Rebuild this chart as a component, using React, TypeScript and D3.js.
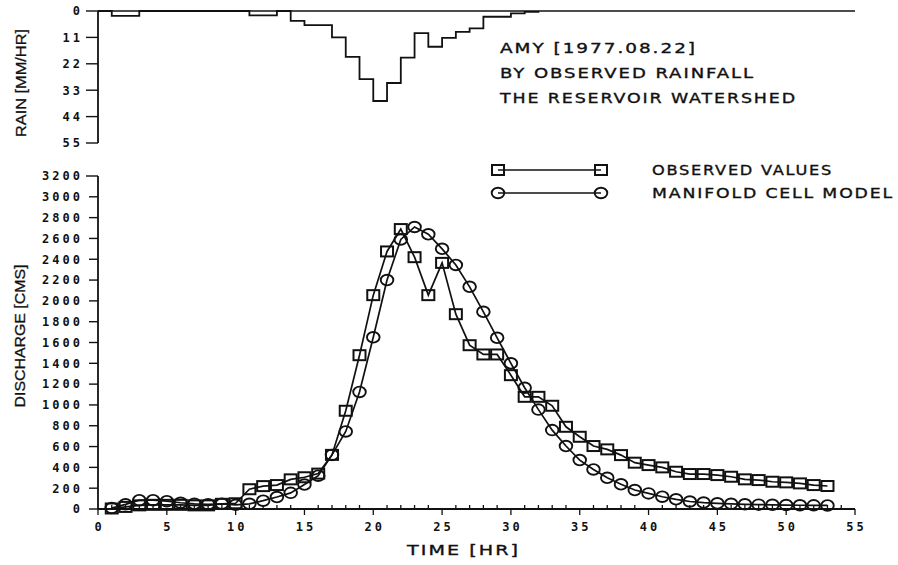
import { useEffect, useRef } from 'react';
import * as d3 from 'd3';

// hyetograph: hourly rain (mm/hr), value holds from the start hour to the next
const rainStartHr = [0, 1, 2, 3, 11, 13, 14, 15, 16, 17, 18, 19, 20, 21, 22, 23, 24, 25, 26, 27, 28, 29, 30, 31, 32];
const rainMm = [0, 2, 2, 0, 1.8, 0, 4.1, 5.9, 5.9, 11, 19.1, 28.4, 37.5, 30, 19.4, 9.2, 14.9, 11.2, 8.7, 7.2, 2.4, 2.4, 1, 0.4, 0];

const hours = [
  1, 2, 3, 4, 5, 6, 7, 8, 9, 10,
  11, 12, 13, 14, 15, 16, 17, 18, 19, 20,
  21, 22, 23, 24, 25, 26, 27, 28, 29, 30,
  31, 32, 33, 34, 35, 36, 37, 38, 39, 40,
  41, 42, 43, 44, 45, 46, 47, 48, 49, 50,
  51, 52, 53,
];
const observed = [
  5, 20, 35, 40, 40, 40, 35, 35, 50, 55,
  190, 220, 230, 285, 305, 340, 520, 944, 1478, 2055,
  2475, 2690, 2420, 2055, 2365, 1872, 1574, 1485, 1485, 1286,
  1078, 1078, 992, 790, 694, 605, 573, 518, 445, 422,
  400, 358, 336, 336, 326, 310, 285, 278, 262, 256,
  246, 230, 221,
];
const manifold = [
  10, 45, 85, 85, 75, 60, 50, 45, 50, 40,
  50, 80, 115, 155, 235, 320, 520, 745, 1125, 1650,
  2200, 2590, 2710, 2640, 2500, 2345, 2135, 1895, 1645, 1400,
  1165, 955, 758, 605, 470, 380, 300, 237, 182, 150,
  118, 93, 72, 62, 55, 50, 45, 42, 40, 38,
  36, 35, 34,
];

const qTicks = [0, 200, 400, 600, 800, 1000, 1200, 1400, 1600, 1800, 2000, 2200, 2400, 2600, 2800, 3000, 3200];
const rainTicks = [0, 11, 22, 33, 44, 55];
const timeTicks = [0, 5, 10, 15, 20, 25, 30, 35, 40, 45, 50, 55];
const titleLines = ['AMY [1977.08.22]', 'BY OBSERVED RAINFALL', 'THE RESERVOIR WATERSHED'];
const legendLabels = ['OBSERVED VALUES', 'MANIFOLD CELL MODEL'];

const INK = '#111';
const MONO = 'DejaVu Sans Mono, monospace';
const SANS = 'DejaVu Sans, Verdana, sans-serif';

export default function App() {
  const svgRef = useRef<SVGSVGElement>(null);

  useEffect(() => {
    if (!svgRef.current) return;
    const svg = d3.select(svgRef.current);
    svg.selectAll('*').remove();

    const x = d3.scaleLinear().domain([0, 55]).range([98, 855]);
    const yQ = d3.scaleLinear().domain([0, 3200]).range([509, 176]);
    const yR = d3.scaleLinear().domain([0, 55]).range([11, 143]);

    // label text: wide plotter-ish lettering, stretched to the measured widths
    const label = (sx: number, sy: number, s: string, len: number) =>
      svg.append('text')
        .attr('x', sx).attr('y', sy)
        .attr('font-family', SANS).attr('font-size', 14)
        .attr('letter-spacing', 1.5)
        .attr('textLength', len).attr('lengthAdjust', 'spacingAndGlyphs')
        .attr('fill', INK).attr('stroke', INK).attr('stroke-width', 0.35)
        .text(s);

    // ---- rain panel
    svg.append('line')
      .attr('x1', x(0)).attr('x2', x(55)).attr('y1', yR(0)).attr('y2', yR(0))
      .attr('stroke', INK).attr('stroke-width', 1.6);
    svg.append('line')
      .attr('x1', x(0)).attr('x2', x(0)).attr('y1', yR(0)).attr('y2', yR(55))
      .attr('stroke', INK).attr('stroke-width', 1.8);

    const rainPts = rainStartHr.map((h, i) => [h, rainMm[i]] as [number, number]);
    const rainLine = d3.line<[number, number]>()
      .x(d => x(d[0])).y(d => yR(d[1]))
      .curve(d3.curveStepAfter);
    svg.append('path')
      .attr('d', rainLine(rainPts) || '')
      .attr('fill', 'none').attr('stroke', INK).attr('stroke-width', 1.8);

    rainTicks.forEach(t => {
      svg.append('line')
        .attr('x1', x(0) - 12).attr('x2', x(0)).attr('y1', yR(t)).attr('y2', yR(t))
        .attr('stroke', INK).attr('stroke-width', 1.4);
      svg.append('text')
        .attr('x', 83).attr('y', yR(t)).attr('dy', '0.36em')
        .attr('text-anchor', 'end')
        .attr('font-family', MONO).attr('font-weight', 'bold').attr('font-size', 12)
        .attr('letter-spacing', 3).attr('fill', INK)
        .text(t);
    });

    svg.append('text')
      .attr('transform', `translate(26,${(yR(0) + yR(55)) / 2 + 6}) rotate(-90)`)
      .attr('text-anchor', 'middle')
      .attr('font-family', 'Liberation Sans, Arial, sans-serif').attr('font-size', 15)
      .attr('textLength', 108).attr('lengthAdjust', 'spacingAndGlyphs')
      .attr('fill', INK).attr('stroke', INK).attr('stroke-width', 0.3)
      .text('RAIN [MM/HR]');

    const titleLen = [197, 255, 297];
    titleLines.forEach((s, i) => label(500, 53 + i * 25, s, titleLen[i]));

    // ---- discharge panel axes
    svg.append('line')
      .attr('x1', x(0)).attr('x2', x(55)).attr('y1', yQ(0)).attr('y2', yQ(0))
      .attr('stroke', INK).attr('stroke-width', 1.8);
    svg.append('line')
      .attr('x1', x(0)).attr('x2', x(0)).attr('y1', yQ(0)).attr('y2', yQ(3200))
      .attr('stroke', INK).attr('stroke-width', 1.8);

    qTicks.forEach(t => {
      svg.append('line')
        .attr('x1', x(0) - (t === 3200 ? 12 : 9)).attr('x2', x(0)).attr('y1', yQ(t)).attr('y2', yQ(t))
        .attr('stroke', INK).attr('stroke-width', 1.4);
      svg.append('text')
        .attr('x', 83).attr('y', yQ(t)).attr('dy', '0.36em')
        .attr('text-anchor', 'end')
        .attr('font-family', MONO).attr('font-weight', 'bold').attr('font-size', 12)
        .attr('letter-spacing', 3).attr('fill', INK)
        .text(t);
    });

    d3.range(0, 56).forEach(h => {
      const major = h % 5 === 0;
      svg.append('line')
        .attr('x1', x(h)).attr('x2', x(h))
        .attr('y1', major ? yQ(0) + 6 : yQ(0) - 4).attr('y2', yQ(0))
        .attr('stroke', INK).attr('stroke-width', 1.3);
    });
    timeTicks.forEach(t => {
      svg.append('text')
        .attr('x', x(t) + 1.5).attr('y', 531)
        .attr('text-anchor', 'middle')
        .attr('font-family', MONO).attr('font-weight', 'bold').attr('font-size', 12)
        .attr('letter-spacing', 3).attr('fill', INK)
        .text(t);
    });

    label(407, 555, 'TIME [HR]', 113);

    svg.append('text')
      .attr('transform', `translate(25,336) rotate(-90)`)
      .attr('text-anchor', 'middle')
      .attr('font-family', 'Liberation Sans, Arial, sans-serif').attr('font-size', 15)
      .attr('textLength', 143).attr('lengthAdjust', 'spacingAndGlyphs')
      .attr('fill', INK).attr('stroke', INK).attr('stroke-width', 0.3)
      .text('DISCHARGE [CMS]');

    // ---- series
    const line = d3.line<[number, number]>().x(d => x(d[0])).y(d => yQ(d[1]));
    const obsPts = hours.map((h, i) => [h, observed[i]] as [number, number]);
    const modPts = hours.map((h, i) => [h, manifold[i]] as [number, number]);

    const drawSquare = (g: any, cx: number, cy: number) => {
      g.append('rect')
        .attr('x', cx - 6).attr('y', cy - 5).attr('width', 12).attr('height', 10)
        .attr('fill', 'none').attr('stroke', INK).attr('stroke-width', 2);
    };
    const drawCircle = (g: any, cx: number, cy: number) => {
      g.append('ellipse')
        .attr('cx', cx).attr('cy', cy).attr('rx', 6.3).attr('ry', 5.3)
        .attr('fill', 'none').attr('stroke', INK).attr('stroke-width', 1.9);
    };

    svg.append('path').attr('d', line(modPts) || '')
      .attr('fill', 'none').attr('stroke', INK).attr('stroke-width', 1.7);
    svg.append('path').attr('d', line(obsPts) || '')
      .attr('fill', 'none').attr('stroke', INK).attr('stroke-width', 1.7);

    const gm = svg.append('g');
    modPts.forEach(d => drawCircle(gm, x(d[0]), yQ(d[1])));
    const go = svg.append('g');
    obsPts.forEach(d => drawSquare(go, x(d[0]), yQ(d[1])));

    // ---- legend
    const legY = [170, 193];
    const legLen = [181, 242];
    legendLabels.forEach((s, i) => {
      const g = svg.append('g');
      g.append('line')
        .attr('x1', 498).attr('x2', 601).attr('y1', legY[i]).attr('y2', legY[i])
        .attr('stroke', INK).attr('stroke-width', 1.6);
      if (i === 0) { drawSquare(g, 498, legY[i]); drawSquare(g, 601, legY[i]); }
      else { drawCircle(g, 498, legY[i]); drawCircle(g, 601, legY[i]); }
      label(652, legY[i] + 5, s, legLen[i]);
    });
  }, []);

  return (
    <svg
      ref={svgRef}
      width={898}
      height={565}
      style={{ position: 'absolute', left: 0, top: 0, background: '#fff' }}
    />
  );
}
